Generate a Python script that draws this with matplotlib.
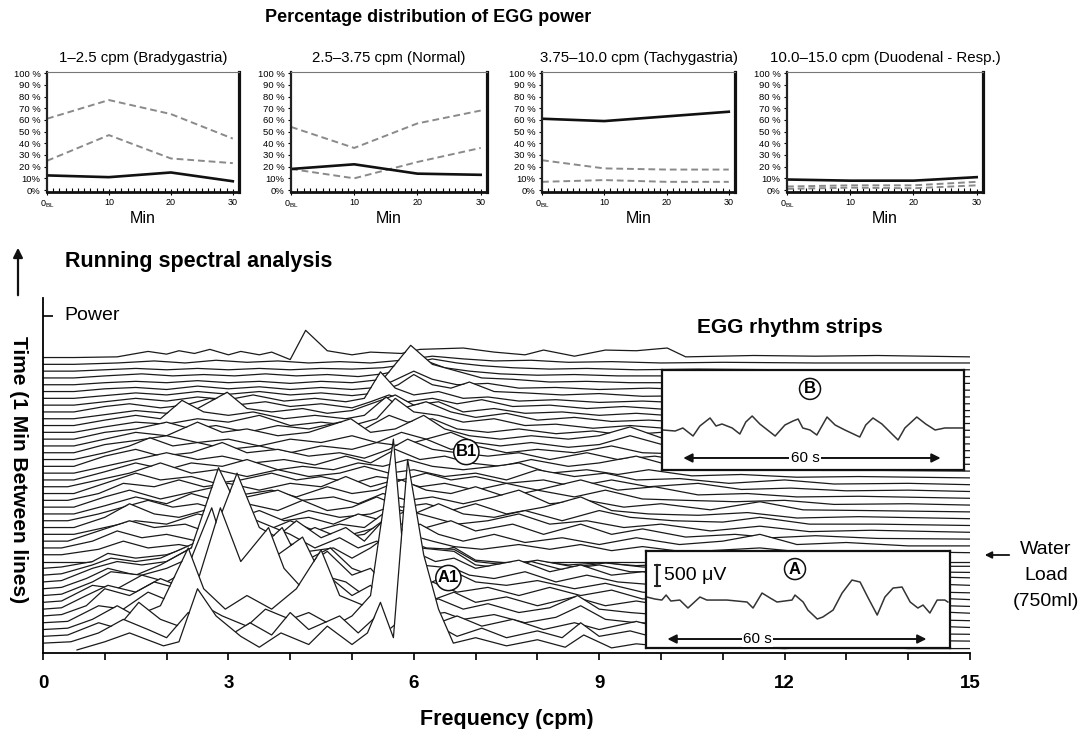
#!/usr/bin/env python
"""EGG running spectral analysis (waterfall) with percentage-of-power panels and rhythm strips."""
import matplotlib
matplotlib.use("Agg")
import matplotlib.pyplot as plt
import numpy as np

plt.rcParams["font.family"] = ["Liberation Sans", "DejaVu Sans"]
plt.rcParams["mathtext.fontset"] = "custom"
plt.rcParams["mathtext.rm"] = "Liberation Sans"
plt.rcParams["mathtext.bf"] = "Liberation Sans:bold"

W, H = 1085, 729

# ---------------- percentage distribution of EGG power ----------------
MINUTES = [0, 10, 20, 30]
MIN_LABELS = [r"$0_{\mathrm{BL}}$", "10", "20", "30"]
PANEL_TITLES = ["1–2.5 cpm (Bradygastria)", "2.5–3.75 cpm (Normal)",
                "3.75–10.0 cpm (Tachygastria)", "10.0–15.0 cpm (Duodenal - Resp.)"]
PCT_PATIENT = [[12.5, 11, 15, 7.5], [18, 22, 14, 13], [61, 59, 63, 67], [9, 8, 8, 11]]
PCT_UPPER = [[61, 77, 65, 44], [54, 36, 57, 68], [25.5, 18.5, 17.5, 17.5], [3, 4, 4, 7]]
PCT_LOWER = [[25, 47, 27, 23], [18, 10, 24, 36], [7, 8.5, 7, 7], [1, 2, 1.5, 4]]
PCT_TICKS = [0, 10, 20, 30, 40, 50, 60, 70, 80, 90, 100]
PCT_TICKLABELS = ["0%", "10%", "20 %", "30 %", "40 %", "50 %", "60 %", "70 %",
                  "80 %", "90 %", "100 %"]

# ---------------- running spectral analysis (1 min per line) ----------------
# (frequency cpm, power in line-spacing units) vertices, bottom line first
rsa_00 = [(0.55, 0), (1.0, 1.2), (1.4, 2.5), (1.95, 0.6), (2.2, 1.2), (2.5, 9.0), (2.8, 5.0), (3.2, 2.0),
          (3.5, 0.4), (3.85, 2.5), (4.3, 0.8), (4.6, 3.5), (5.0, 0.8), (5.25, 2.5), (5.46, 7.0), (5.67, 1.8),
          (5.9, 28.0), (6.16, 14.0), (6.4, 6.0), (6.64, 1.0), (7.0, 1.8), (7.5, 0.6), (8.0, 1.5), (8.45, 0.4),
          (8.75, 2.2), (9.2, 0.3), (9.6, 0.9), (10.3, 0.3), (11.0, 0.5), (12.0, 0.2), (13.0, 0.6), (14.0, 0.2), (15.0, 0.2)]
rsa_01 = [(0.45, 0.2), (0.9, 1.5), (1.3, 3.5), (1.7, 2.0), (2.0, 0.8), (2.35, 4.5), (2.65, 3.0), (3.0, 1.0),
          (3.35, 3.0), (3.7, 1.2), (4.0, 4.5), (4.3, 2.0), (4.8, 4.0), (5.1, 1.5), (5.4, 4.0), (5.6, 2.0),
          (6.0, 5.0), (6.3, 3.0), (6.7, 1.0), (7.1, 2.2), (7.5, 0.8), (8.0, 1.8), (8.4, 0.8), (8.7, 3.0),
          (9.0, 1.0), (9.5, 1.8), (10.0, 0.6), (11.0, 1.0), (12.0, 0.4), (13.0, 0.9), (14.0, 0.4), (15.0, 0.3)]
rsa_02 = [(0.4, 0.2), (0.9, 2.0), (1.2, 1.2), (1.55, 5.0), (1.9, 2.5), (2.2, 1.5), (2.6, 4.5), (2.9, 3.0),
          (3.3, 1.5), (3.6, 4.0), (4.0, 2.5), (4.3, 3.5), (4.7, 1.5), (5.0, 3.0), (5.3, 6.0), (5.67, 29.0),
          (5.85, 10.0), (6.1, 4.0), (6.4, 2.0), (6.7, 3.0), (7.1, 1.5), (7.6, 2.5), (8.1, 1.0), (8.6, 2.0),
          (9.0, 1.0), (9.6, 2.2), (10.2, 0.8), (11.0, 1.0), (12.0, 0.6), (13.0, 0.8), (14.0, 0.4), (15.0, 0.3)]
rsa_03 = [(0.4, 0.2), (0.8, 1.5), (1.2, 3.5), (1.5, 2.0), (1.9, 3.5), (2.35, 12.0), (2.6, 6.0), (2.95, 3.0),
          (3.3, 5.0), (3.7, 3.0), (4.1, 6.0), (4.5, 11.7), (4.8, 5.0), (5.2, 3.5), (5.5, 2.0), (5.8, 3.0),
          (6.1, 2.0), (6.5, 2.5), (6.8, 1.5), (7.3, 2.2), (7.8, 1.0), (8.3, 1.8), (8.7, 3.5), (9.1, 1.5),
          (9.6, 1.0), (10.5, 0.8), (11.5, 1.0), (12.5, 0.5), (13.5, 0.8), (15.0, 0.3)]
rsa_04 = [(0.4, 0.2), (0.9, 2.5), (1.3, 2.0), (1.7, 4.5), (2.1, 3.0), (2.5, 6.0), (2.87, 16.9), (3.2, 9.0),
          (3.65, 14.0), (3.9, 8.0), (4.2, 5.0), (4.6, 7.0), (5.0, 4.0), (5.3, 5.5), (5.55, 3.0), (6.0, 2.5),
          (6.4, 3.5), (6.8, 2.0), (7.2, 2.8), (7.7, 1.5), (8.2, 2.2), (8.65, 4.0), (9.0, 2.0), (9.5, 1.5),
          (10.2, 1.0), (11.2, 1.4), (12.0, 0.8), (13.0, 1.0), (14.0, 0.5), (15.0, 0.3)]
rsa_05 = [(0.3, 0.2), (0.7, 1.5), (1.0, 4.0), (1.4, 3.0), (1.8, 5.0), (2.2, 4.0), (2.73, 15.9), (3.0, 8.0),
          (3.4, 6.0), (3.8, 9.0), (4.2, 11.6), (4.5, 6.0), (4.9, 5.0), (5.2, 3.0), (5.45, 4.5), (5.8, 3.0),
          (6.2, 2.0), (6.65, 3.5), (7.0, 2.0), (7.5, 2.8), (8.0, 1.5), (8.6, 2.8), (9.1, 1.5), (9.6, 2.2),
          (10.4, 1.0), (11.5, 1.2), (12.5, 0.6), (13.5, 1.0), (15.0, 0.4)]
rsa_06 = [(0.3, 0.2), (0.7, 2.0), (1.05, 3.5), (1.5, 2.5), (1.9, 4.5), (2.3, 3.0), (2.6, 7.0), (3.0, 5.0),
          (3.4, 8.0), (3.87, 12.0), (4.2, 6.0), (4.6, 8.5), (5.0, 5.0), (5.3, 6.0), (5.5, 4.0), (6.0, 3.0),
          (6.3, 4.0), (6.7, 2.5), (7.2, 3.2), (7.7, 2.0), (8.2, 3.2), (8.7, 2.0), (9.2, 2.8), (9.7, 1.5),
          (10.5, 1.5), (11.5, 1.0), (12.5, 0.8), (13.5, 0.8), (15.0, 0.4)]
rsa_07 = [(0.3, 0.2), (0.8, 2.5), (1.2, 2.0), (1.6, 4.0), (2.0, 3.0), (2.4, 5.0), (2.8, 7.0), (3.2, 5.5),
          (3.6, 6.5), (4.0, 5.0), (4.65, 8.0), (5.0, 5.0), (5.3, 4.0), (5.55, 5.5), (5.9, 3.5), (6.3, 3.0),
          (6.65, 4.5), (7.0, 3.0), (7.5, 2.5), (8.0, 3.2), (8.6, 2.0), (9.1, 2.8), (9.7, 1.5), (10.5, 1.0),
          (11.5, 1.5), (12.5, 0.8), (13.5, 1.0), (15.0, 0.4)]
rsa_08 = [(0.3, 0.2), (0.8, 2.0), (1.1, 3.5), (1.6, 3.0), (2.0, 4.0), (2.5, 6.0), (2.8, 10.0), (3.14, 18.0),
          (3.5, 10.0), (3.9, 8.0), (4.3, 6.5), (4.7, 7.0), (5.0, 5.5), (5.3, 7.0), (5.6, 9.0), (5.85, 6.0),
          (6.1, 4.5), (6.65, 4.0), (6.9, 3.0), (7.3, 2.5), (7.8, 3.5), (8.3, 2.0), (8.8, 3.0), (9.3, 2.0),
          (10.0, 1.5), (11.0, 1.0), (12.0, 1.2), (13.0, 0.8), (14.0, 0.6), (15.0, 0.4)]
rsa_09 = [(0.3, 0.2), (0.7, 1.5), (1.05, 3.0), (1.5, 2.0), (1.9, 3.5), (2.4, 6.0), (2.84, 17.8), (3.2, 11.0),
          (3.6, 9.5), (4.0, 8.0), (4.4, 6.0), (4.8, 7.5), (5.1, 6.0), (5.4, 7.0), (5.7, 6.0), (6.0, 5.5),
          (6.35, 4.0), (6.65, 4.5), (7.0, 3.0), (7.7, 4.2), (8.2, 2.5), (8.7, 3.5), (9.2, 2.0), (9.7, 2.5),
          (10.5, 1.5), (11.5, 2.0), (12.5, 1.0), (13.5, 1.0), (15.0, 0.5)]
rsa_10 = [(0.3, 0.2), (0.8, 2.0), (1.2, 3.0), (1.6, 2.5), (2.0, 3.0), (2.5, 5.5), (2.9, 7.0), (3.3, 8.5),
          (3.7, 6.0), (4.1, 9.0), (4.5, 6.5), (4.9, 8.0), (5.2, 6.0), (5.5, 9.0), (5.75, 6.0), (6.1, 5.0),
          (6.65, 4.5), (7.0, 2.5), (7.5, 2.0), (7.9, 3.0), (8.4, 1.8), (9.0, 2.5), (9.5, 1.5), (10.2, 1.5),
          (11.0, 1.2), (11.6, 2.5), (12.3, 1.2), (13.2, 1.0), (14.2, 0.8), (15.0, 0.6)]
rsa_11 = [(0.3, 0.2), (0.8, 1.5), (1.1, 2.5), (1.5, 2.0), (1.9, 2.5), (2.4, 4.5), (2.8, 6.0), (3.2, 5.0),
          (3.6, 6.5), (4.0, 5.5), (4.4, 7.0), (4.8, 5.5), (5.2, 6.0), (5.5, 8.0), (5.8, 5.5), (6.2, 4.0),
          (6.65, 3.8), (7.0, 2.0), (7.5, 1.5), (8.0, 2.2), (8.6, 1.2), (9.1, 1.8), (9.7, 1.2), (10.3, 1.0),
          (11.0, 0.8), (11.6, 1.5), (12.3, 0.6), (13.0, 0.8), (14.0, 0.5), (15.0, 0.4)]
rsa_12 = [(0.3, 0.2), (0.8, 1.0), (1.05, 2.2), (1.5, 1.5), (2.0, 2.0), (2.5, 3.5), (3.0, 4.0), (3.5, 3.5),
          (4.0, 4.5), (4.5, 4.0), (5.0, 5.0), (5.4, 6.0), (5.8, 4.0), (6.2, 2.0), (6.65, 3.1), (7.0, 1.2),
          (7.5, 0.8), (8.0, 1.0), (8.5, 0.5), (9.0, 0.8), (9.6, 0.4), (10.2, 0.6), (10.8, 0.3), (11.6, 0.8),
          (12.3, 0.3), (13.0, 0.4), (14.0, 0.3), (15.0, 0.3)]
rsa_13 = [(0.0, 0.0), (15.0, 0.0)]  # water load, no signal
rsa_14 = [(0.3, 0), (0.9, 0.8), (1.3, 2.0), (1.7, 1.0), (2.2, 1.5), (2.6, 0.8), (3.0, 1.5), (3.5, 0.8),
          (4.0, 2.0), (4.4, 1.0), (4.9, 1.5), (5.3, 2.5), (5.65, 5.0), (5.9, 3.0), (6.3, 2.0), (6.65, 1.2),
          (7.1, 0.8), (7.7, 1.5), (8.2, 0.8), (8.7, 1.5), (9.2, 0.6), (9.7, 1.2), (10.4, 0.4), (11.6, 1.0),
          (12.4, 0.3), (13.5, 0.5), (15.0, 0.3)]
rsa_15 = [(0.3, 0), (0.8, 1.0), (1.2, 2.5), (1.6, 1.5), (2.0, 2.0), (2.5, 1.0), (2.9, 2.0), (3.3, 1.0),
          (3.8, 2.5), (4.2, 1.5), (4.6, 2.0), (5.0, 1.0), (5.4, 3.0), (5.7, 2.0), (6.1, 3.5), (6.4, 2.0),
          (6.8, 1.0), (7.3, 2.0), (7.8, 0.8), (8.4, 1.5), (9.0, 0.5), (9.6, 1.5), (10.3, 0.5), (11.0, 1.0),
          (11.6, 2.0), (12.2, 0.5), (13.0, 0.8), (14.0, 0.3), (15.0, 0.3)]
rsa_16 = [(0.4, 0), (0.9, 1.5), (1.4, 3.0), (1.8, 2.0), (2.3, 2.5), (2.7, 1.2), (3.1, 2.5), (3.6, 1.5),
          (4.0, 3.0), (4.4, 1.5), (4.8, 2.5), (5.2, 2.0), (5.5, 4.0), (5.8, 2.5), (6.2, 2.0), (6.6, 3.0),
          (7.0, 1.5), (7.6, 2.5), (8.1, 1.0), (8.7, 2.5), (9.2, 1.0), (9.7, 1.8), (10.4, 0.6), (11.2, 1.0),
          (11.8, 0.5), (12.5, 0.8), (13.5, 0.4), (15.0, 0.3)]
rsa_17 = [(0.5, 0), (1.0, 1.0), (1.5, 2.0), (2.0, 1.5), (2.5, 3.0), (3.0, 2.0), (3.5, 3.5), (3.9, 2.0),
          (4.3, 2.5), (4.7, 1.5), (5.1, 3.0), (5.5, 2.0), (5.9, 3.5), (6.3, 2.5), (6.7, 1.5), (7.2, 2.0),
          (7.7, 3.0), (8.2, 1.5), (8.8, 2.0), (9.4, 1.0), (10.0, 1.5), (10.8, 0.5), (11.6, 1.2), (12.4, 0.4),
          (13.4, 0.6), (15.0, 0.3)]
rsa_18 = [(0.5, 0), (1.0, 1.5), (1.4, 3.5), (1.8, 2.0), (2.2, 1.5), (2.6, 2.5), (3.0, 1.5), (3.4, 2.0),
          (3.8, 1.0), (4.3, 2.5), (4.8, 1.5), (5.3, 2.0), (5.6, 3.0), (6.0, 2.0), (6.4, 3.5), (6.8, 2.0),
          (7.3, 1.5), (7.8, 2.5), (8.4, 1.0), (9.0, 2.5), (9.5, 1.5), (10.2, 1.0), (11.0, 0.8), (11.6, 1.5),
          (12.4, 0.5), (13.5, 0.5), (15.0, 0.3)]
rsa_19 = [(0.4, 0), (0.9, 1.0), (1.3, 2.0), (1.7, 3.0), (2.1, 2.0), (2.5, 2.5), (2.9, 1.5), (3.3, 2.5),
          (3.8, 1.5), (4.2, 3.0), (4.6, 1.5), (5.0, 2.0), (5.4, 3.5), (5.8, 2.0), (6.2, 2.5), (6.6, 1.5),
          (7.0, 2.5), (7.5, 1.0), (8.1, 2.0), (8.7, 3.5), (9.2, 1.5), (9.8, 1.0), (10.6, 0.8), (11.4, 1.2),
          (12.2, 0.4), (13.2, 0.6), (15.0, 0.3)]
rsa_20 = [(0.5, 0), (1.0, 1.2), (1.5, 2.5), (2.0, 1.5), (2.4, 3.0), (2.8, 2.0), (3.3, 2.5), (3.8, 3.5),
          (4.2, 2.0), (4.7, 2.5), (5.1, 1.5), (5.5, 3.0), (5.9, 2.0), (6.3, 2.5), (6.8, 1.5), (7.3, 2.5),
          (7.7, 3.5), (8.2, 1.5), (8.8, 2.0), (9.4, 1.0), (10.0, 1.5), (10.8, 0.6), (11.6, 1.8), (12.3, 0.6),
          (13.3, 0.5), (15.0, 0.3)]
rsa_21 = [(0.5, 0), (1.0, 1.5), (1.4, 2.5), (1.9, 1.2), (2.3, 2.0), (2.8, 3.0), (3.2, 1.8), (3.7, 2.5),
          (4.1, 1.5), (4.6, 3.0), (5.0, 2.0), (5.4, 2.5), (5.8, 4.0), (6.2, 2.5), (6.6, 2.0), (7.0, 3.0),
          (7.5, 1.5), (8.0, 2.5), (8.6, 1.5), (9.1, 2.5), (9.7, 1.2), (10.4, 1.0), (11.2, 0.8), (12.0, 1.0),
          (12.8, 0.4), (14.0, 0.5), (15.0, 0.3)]
rsa_22 = [(0.4, 0), (0.9, 1.0), (1.3, 2.5), (1.8, 2.0), (2.2, 3.0), (2.6, 2.0), (3.0, 2.5), (3.5, 1.5),
          (4.0, 2.5), (4.5, 2.0), (4.9, 3.5), (5.3, 2.0), (5.7, 3.0), (6.1, 2.0), (6.5, 2.5), (7.0, 1.5),
          (7.5, 2.5), (8.0, 1.5), (8.7, 3.0), (9.3, 1.5), (9.9, 2.0), (10.6, 0.8), (11.4, 1.0), (12.2, 0.5),
          (13.2, 0.6), (15.0, 0.3)]
rsa_23 = [(0.5, 0), (1.0, 1.5), (1.5, 3.0), (1.9, 2.0), (2.4, 2.5), (2.8, 1.5), (3.2, 2.0), (3.7, 3.0),
          (4.1, 2.0), (4.5, 2.5), (5.0, 1.5), (5.4, 2.5), (5.8, 2.0), (6.2, 3.0), (6.6, 2.0), (7.0, 2.5),
          (7.5, 1.5), (8.1, 2.0), (8.6, 1.0), (9.2, 2.0), (9.8, 1.0), (10.6, 1.5), (11.3, 0.6), (12.1, 0.8),
          (13.0, 0.4), (14.0, 0.5), (15.0, 0.3)]
rsa_24 = [(0.4, 0), (0.9, 1.0), (1.4, 2.0), (1.9, 3.5), (2.4, 2.0), (2.8, 2.5), (3.3, 1.5), (3.8, 2.5),
          (4.3, 1.5), (4.8, 2.0), (5.2, 3.0), (5.6, 2.0), (6.0, 2.5), (6.5, 1.5), (7.0, 2.0), (7.5, 1.0),
          (8.0, 2.5), (8.6, 1.5), (9.1, 2.0), (9.6, 1.0), (10.3, 1.2), (11.1, 0.5), (12.0, 1.0), (12.8, 0.4),
          (14.0, 0.5), (15.0, 0.3)]
rsa_25 = [(0.5, 0), (1.0, 1.2), (1.5, 2.5), (2.0, 1.5), (2.4, 2.5), (2.9, 2.0), (3.3, 3.0), (3.8, 1.5),
          (4.2, 2.0), (4.7, 1.5), (5.1, 2.5), (5.5, 2.0), (5.9, 3.0), (6.3, 2.0), (6.8, 1.5), (7.3, 2.0),
          (7.7, 2.5), (8.2, 1.0), (8.8, 1.5), (9.3, 0.8), (9.8, 1.5), (10.5, 0.6), (11.3, 0.8), (12.2, 0.4),
          (13.2, 0.5), (15.0, 0.3)]
rsa_26 = [(0.5, 0), (1.0, 1.0), (1.5, 2.0), (2.0, 3.0), (2.5, 2.0), (2.9, 2.5), (3.4, 1.5), (3.9, 2.0),
          (4.4, 1.2), (4.9, 2.5), (5.3, 1.5), (5.7, 3.5), (6.1, 2.0), (6.5, 2.5), (6.9, 1.5), (7.4, 1.0),
          (7.9, 2.0), (8.5, 1.0), (9.0, 1.5), (9.6, 2.5), (10.2, 1.0), (11.0, 0.5), (11.8, 0.8), (12.6, 0.4),
          (13.6, 0.4), (15.0, 0.3)]
rsa_27 = [(0.5, 0), (1.0, 1.5), (1.5, 2.5), (1.9, 1.5), (2.4, 2.0), (2.9, 3.5), (3.3, 2.0), (3.8, 2.5),
          (4.3, 1.5), (4.8, 2.0), (5.2, 1.2), (5.6, 2.5), (5.9, 4.0), (6.3, 2.5), (6.7, 2.0), (7.2, 1.5),
          (7.7, 2.0), (8.2, 1.0), (8.8, 2.0), (9.3, 1.0), (9.9, 1.5), (10.6, 0.5), (11.4, 0.8), (12.3, 0.4),
          (13.5, 0.4), (15.0, 0.3)]
rsa_28 = [(0.5, 0), (1.0, 1.0), (1.4, 2.0), (1.73, 3.2), (2.1, 2.0), (2.5, 2.5), (3.0, 1.5), (3.5, 2.0),
          (4.0, 1.0), (4.5, 2.0), (5.0, 1.5), (5.4, 2.5), (5.8, 2.0), (6.2, 3.0), (6.6, 1.5), (7.0, 2.0),
          (7.5, 1.0), (8.0, 1.5), (8.6, 1.0), (9.2, 2.0), (9.7, 1.0), (10.4, 0.8), (11.2, 0.5), (12.0, 0.6),
          (13.0, 0.3), (15.0, 0.3)]
rsa_29 = [(0.5, 0), (1.0, 1.2), (1.5, 1.8), (2.0, 2.5), (2.5, 1.5), (3.0, 2.0), (3.5, 1.0), (4.0, 2.0),
          (4.5, 1.5), (5.0, 2.5), (5.4, 1.5), (5.8, 3.0), (6.2, 2.0), (6.6, 3.0), (7.0, 1.5), (7.4, 1.0),
          (7.9, 1.5), (8.5, 0.8), (9.0, 1.2), (9.5, 2.5), (10.1, 1.0), (10.8, 0.5), (11.6, 0.6), (12.5, 0.3),
          (13.5, 0.4), (15.0, 0.3)]
rsa_30 = [(0.5, 0), (1.0, 1.0), (1.5, 2.0), (2.0, 1.5), (2.5, 3.5), (2.9, 2.0), (3.3, 2.5), (3.8, 1.5),
          (4.3, 2.0), (4.98, 4.0), (5.3, 2.0), (5.7, 2.5), (6.16, 4.5), (6.5, 2.5), (6.9, 1.5), (7.4, 1.0),
          (7.9, 1.5), (8.5, 1.0), (9.0, 1.5), (9.5, 2.8), (10.0, 1.2), (10.8, 0.5), (11.6, 0.5), (12.5, 0.3),
          (15.0, 0.3)]
rsa_31 = [(0.5, 0), (1.0, 1.0), (1.5, 1.5), (2.0, 2.5), (2.4, 1.5), (2.8, 2.0), (3.3, 1.0), (3.8, 2.0),
          (4.3, 1.5), (4.8, 2.5), (5.2, 1.5), (5.6, 3.5), (5.9, 2.5), (6.3, 3.0), (6.7, 1.5), (7.2, 1.0),
          (7.7, 1.5), (8.3, 0.8), (8.9, 1.2), (9.4, 0.6), (10.0, 1.0), (10.8, 0.4), (11.8, 0.5), (13.0, 0.3),
          (15.0, 0.3)]
rsa_32 = [(0.5, 0), (1.0, 0.8), (1.5, 1.5), (2.0, 1.2), (2.5, 2.0), (3.0, 1.5), (3.5, 2.5), (4.0, 1.0),
          (4.5, 1.5), (5.0, 1.0), (5.4, 2.0), (5.7, 5.0), (6.0, 3.0), (6.4, 2.5), (6.8, 1.5), (7.3, 2.0),
          (7.8, 1.0), (8.3, 1.2), (8.9, 0.6), (9.5, 1.0), (10.2, 0.5), (11.0, 0.6), (12.0, 0.3), (13.2, 0.4),
          (15.0, 0.3)]
rsa_33 = [(0.5, 0), (1.0, 0.8), (1.5, 1.5), (1.9, 1.0), (2.25, 3.7), (2.6, 2.0), (3.0, 1.5), (3.4, 2.0),
          (3.9, 1.0), (4.4, 1.5), (4.9, 1.0), (5.2, 1.5), (5.55, 4.2), (5.8, 2.5), (6.2, 3.5), (6.6, 2.0),
          (7.0, 1.2), (7.5, 1.8), (8.0, 0.8), (8.6, 1.2), (9.2, 0.6), (9.8, 0.8), (10.6, 0.4), (11.5, 0.5),
          (12.5, 0.3), (15.0, 0.3)]
rsa_34 = [(0.5, 0), (1.0, 0.6), (1.5, 1.2), (2.0, 0.8), (2.5, 1.5), (2.98, 3.9), (3.3, 1.5), (3.7, 1.0),
          (4.2, 1.5), (4.6, 0.8), (5.0, 1.2), (5.4, 2.5), (5.7, 3.5), (6.0, 2.0), (6.4, 2.5), (6.8, 1.0),
          (7.3, 1.5), (7.8, 0.8), (8.4, 1.0), (9.0, 0.5), (9.6, 0.8), (10.4, 0.3), (11.4, 0.5), (12.5, 0.2),
          (15.0, 0.3)]
rsa_35 = [(0.5, 0), (1.0, 0.8), (1.4, 1.2), (1.9, 0.6), (2.3, 1.0), (2.7, 2.0), (3.1, 1.0), (3.6, 1.5),
          (4.0, 0.8), (4.5, 1.2), (5.0, 0.6), (5.3, 1.5), (5.6, 2.5), (5.9, 1.5), (6.3, 2.0), (6.7, 1.2),
          (7.1, 1.8), (7.6, 0.8), (8.2, 1.0), (8.8, 0.5), (9.4, 0.8), (10.2, 0.3), (11.2, 0.4), (12.4, 0.2),
          (15.0, 0.2)]
rsa_36 = [(0.5, 0), (1.0, 0.5), (1.5, 1.0), (2.0, 0.6), (2.5, 1.2), (3.0, 0.8), (3.4, 1.5), (3.9, 0.6),
          (4.4, 1.0), (4.9, 0.5), (5.2, 1.0), (5.46, 4.9), (5.7, 2.5), (6.0, 1.5), (6.4, 2.0), (6.8, 1.0),
          (7.2, 1.2), (7.7, 0.6), (8.3, 0.8), (9.0, 0.4), (9.7, 0.6), (10.5, 0.3), (11.6, 0.4), (13.0, 0.2),
          (15.0, 0.2)]
rsa_37 = [(0.5, 0), (1.0, 0.4), (1.5, 0.8), (2.0, 0.5), (2.5, 1.0), (3.0, 0.6), (3.5, 1.0), (4.0, 0.5),
          (4.5, 0.8), (5.0, 0.4), (5.4, 0.8), (5.75, 2.0), (6.0, 3.5), (6.3, 2.0), (6.6, 1.5), (6.9, 2.4),
          (7.3, 1.0), (7.8, 0.8), (8.4, 0.5), (9.0, 0.7), (9.7, 0.3), (10.6, 0.4), (12.0, 0.2), (15.0, 0.2)]
rsa_38 = [(0.5, 0), (1.0, 0.4), (1.5, 0.6), (2.0, 0.3), (2.5, 0.8), (3.0, 0.4), (3.5, 0.7), (4.0, 0.3),
          (4.5, 0.6), (5.0, 0.3), (5.4, 0.6), (5.65, 1.5), (6.0, 3.0), (6.3, 1.8), (6.7, 1.0), (7.2, 1.2),
          (7.7, 0.5), (8.3, 0.6), (9.0, 0.3), (9.8, 0.5), (10.8, 0.2), (12.0, 0.3), (15.0, 0.2)]
rsa_39 = [(0.5, 0), (1.0, 0.3), (1.5, 0.5), (2.0, 0.3), (2.5, 0.6), (3.0, 0.3), (3.5, 0.5), (4.0, 0.2),
          (4.5, 0.5), (5.0, 0.3), (5.5, 0.8), (5.95, 5.8), (6.3, 3.0), (6.7, 2.0), (7.1, 1.0), (7.6, 0.8),
          (8.2, 0.4), (8.8, 0.5), (9.5, 0.3), (10.5, 0.3), (12.0, 0.2), (15.0, 0.2)]
rsa_40 = [(0.5, 0), (1.0, 0.3), (1.6, 0.6), (2.1, 0.3), (2.6, 0.5), (3.1, 0.3), (3.6, 0.6), (4.1, 0.3),
          (4.6, 0.5), (5.1, 0.2), (5.5, 0.6), (5.8, 1.2), (6.2, 2.5), (6.5, 1.5), (6.9, 1.0), (7.4, 0.6),
          (8.0, 0.4), (8.6, 0.5), (9.3, 0.3), (10.2, 0.3), (11.5, 0.2), (15.0, 0.2)]
rsa_41 = [(0.5, 0), (1.0, 0.2), (1.5, 0.4), (2.0, 0.2), (2.5, 0.4), (3.0, 0.2), (3.5, 0.4), (4.0, 0.2),
          (4.5, 0.4), (5.0, 0.3), (5.5, 0.5), (5.9, 1.0), (6.3, 1.8), (6.7, 1.2), (7.1, 0.8), (7.6, 0.5),
          (8.2, 0.3), (8.8, 0.4), (9.6, 0.2), (10.6, 0.3), (12.0, 0.2), (15.0, 0.2)]
rsa_42 = [(0.5, 0), (1.2, 0.2), (1.8, 0.5), (2.3, 0.2), (2.8, 0.6), (3.3, 0.3), (3.8, 0.5), (4.3, 0.2),
          (4.8, 0.4), (5.3, 0.2), (5.8, 0.6), (6.3, 1.2), (6.8, 0.8), (7.3, 0.5), (7.9, 0.6), (8.5, 0.3),
          (9.2, 0.4), (10.0, 0.2), (11.0, 0.3), (12.5, 0.2), (15.0, 0.2)]
rsa_43 = [(0.5, 0), (1.2, 0.1), (1.7, 0.9), (2.0, 0.5), (2.2, 1.0), (2.45, 0.6), (2.7, 1.2), (3.0, 0.4),
          (3.2, 0.9), (3.5, 0.4), (3.7, 0.8), (4.0, -0.3), (4.25, 4.0), (4.6, 1.0), (5.0, 0.4), (5.3, 0.8),
          (5.8, 0.6), (6.1, 1.2), (6.8, 1.4), (7.3, 0.8), (7.8, 0.4), (8.1, 1.1), (8.6, 0.2), (9.1, 1.1),
          (9.6, 1.0), (10.1, 1.4), (10.4, 0.1), (11.5, 0.3), (12.5, 0.2), (13.5, 0.3), (15.0, 0.1)]
RSA = [rsa_00, rsa_01, rsa_02, rsa_03, rsa_04, rsa_05, rsa_06, rsa_07, rsa_08, rsa_09, rsa_10,
       rsa_11, rsa_12, rsa_13, rsa_14, rsa_15, rsa_16, rsa_17, rsa_18, rsa_19, rsa_20, rsa_21,
       rsa_22, rsa_23, rsa_24, rsa_25, rsa_26, rsa_27, rsa_28, rsa_29, rsa_30, rsa_31, rsa_32,
       rsa_33, rsa_34, rsa_35, rsa_36, rsa_37, rsa_38, rsa_39, rsa_40, rsa_41, rsa_42, rsa_43]
FREQ_TICKS = [0, 3, 6, 9, 12, 15]

# ---------------- EGG rhythm strips (time s, amplitude uV) ----------------
STRIP_B_T = [0.2, 3.1, 4.9, 7.3, 8.9, 11.3, 12.7, 14.1, 16.5, 18.3, 19.7, 21.2, 23.0, 26.6, 28.9, 30.8,
             32.0, 33.1, 34.8, 36.4, 38.8, 40.7, 43.0, 46.5, 47.9, 49.6, 51.7, 53.6, 55.5, 57.1, 59.9,
             62.0, 64.2, 66.5, 70.7]
STRIP_B_UV = [952, 928, 1000, 809, 1047, 1238, 1047, 1095, 1000, 857, 1142, 1285, 1095, 809, 1071, 1166,
              1214, 1000, 952, 833, 1261, 1071, 952, 785, 1071, 1238, 1095, 904, 714, 1000, 1261,
              1095, 952, 1000, 1000]
STRIP_A_T = [0.2, 2.1, 3.7, 4.7, 5.8, 7.9, 9.8, 12.6, 14.2, 18.9, 23.6, 25.0, 27.1, 29.0, 30.6, 34.1,
             34.8, 36.7, 37.8, 40.0, 41.3, 43.7, 45.8, 48.1, 50.0, 51.9, 54.0, 55.8, 57.7, 59.8, 61.7,
             63.5, 64.7, 66.3, 68.0, 69.8, 70.5]
STRIP_A_UV = [1214, 1166, 1142, 1261, 1119, 1142, 952, 1214, 1142, 1142, 1095, 952, 1309, 1190, 1095, 1142,
              1261, 1095, 904, 690, 738, 904, 1309, 1618, 1571, 1190, 785, 1214, 1428, 1452, 1095,
              952, 1023, 833, 1142, 1142, 1095]


def fx(x):
    return x / W


def fy(y):
    return 1 - y / H


fig = plt.figure(figsize=(W / 100, H / 100), dpi=100)

# --- top panels ---
fig.text(fx(428), fy(18), "Percentage distribution of EGG power", ha="center", va="center",
         fontsize=13, fontweight="bold")
PANEL_PX = [(47, 239), (291, 487), (542, 735), (787, 983)]
for k, (l, r) in enumerate(PANEL_PX):
    pa = fig.add_axes([fx(l), fy(192), (r - l) / W, 120 / H])
    pa.plot(MINUTES, PCT_UPPER[k], color="#8a8a8a", lw=1.4, ls=(0, (3.5, 2)))
    pa.plot(MINUTES, PCT_LOWER[k], color="#8a8a8a", lw=1.4, ls=(0, (3.5, 2)))
    pa.plot(MINUTES, PCT_PATIENT[k], color="#111111", lw=1.9)
    pa.set_xlim(0, 31)
    pa.set_ylim(-1.7, 101)
    pa.set_yticks(PCT_TICKS)
    pa.set_yticklabels(PCT_TICKLABELS, fontsize=6.8)
    pa.set_xticks(MINUTES)
    pa.set_xticklabels(MIN_LABELS, fontsize=6.5)
    pa.set_xticks(range(0, 31), minor=True)
    pa.tick_params(axis="x", which="minor", direction="in", length=3, width=0.8)
    pa.tick_params(axis="x", which="major", direction="inout", length=5, width=0.8, pad=2)
    pa.tick_params(axis="y", direction="out", length=2.5, width=0.8, pad=2)
    for side, lw, c in [("left", 1.6, "#222"), ("bottom", 2.0, "#111"), ("right", 2.3, "#111"),
                        ("top", 0.8, "#777")]:
        pa.spines[side].set_linewidth(lw)
        pa.spines[side].set_color(c)
    pa.set_xlabel("Min", fontsize=11.5, labelpad=1)
    pa.set_title(PANEL_TITLES[k], fontsize=10.8, pad=7)

# --- running spectral analysis ---
ax = fig.add_axes([fx(43), fy(653), 927 / W, 355 / H])
SPACING = 6.8  # pixels per minute line
ax.set_xlim(0, 15)
ax.set_ylim(0, 355 / SPACING)
n = len(RSA)
for i in range(n - 1, -1, -1):
    pts = list(RSA[i])
    if i > 0 and pts[0][0] > 0:
        pts = [(0.0, 0.0)] + pts
    f = np.array([p[0] for p in pts])
    pw = np.array([p[1] for p in pts])
    base = 0.45 + i
    z = 10 + 2 * (n - i)
    ax.fill_between(f, base - 0.4, base + pw, color="white", lw=0, zorder=z)
    ax.plot(f, base + pw, color="#1a1a1a", lw=0.9, zorder=z + 1)

for s in ["top", "right"]:
    ax.spines[s].set_visible(False)
for s in ["left", "bottom"]:
    ax.spines[s].set_linewidth(1.3)
    ax.spines[s].set_zorder(500)
ax.set_xticks(FREQ_TICKS)
ax.set_xticklabels([str(t) for t in FREQ_TICKS], fontsize=13.5, fontweight="bold")
ax.set_xticks(range(0, 16), minor=True)
ax.tick_params(axis="x", which="both", direction="out", length=5, width=1.2, pad=11)
ax.set_yticks([(653 - 316) / SPACING])
ax.set_yticklabels([""])
ax.tick_params(axis="y", direction="in", length=7, width=1.2)
ax.text(0.35, (653 - 316) / SPACING, "Power", fontsize=14, va="center", ha="left")
ax.set_facecolor("white")

circ = dict(boxstyle="circle,pad=0.12", fc="white", ec="#111", lw=1.1)
ax.text(6.85, (653 - 452) / SPACING, "B1", ha="center", va="center", fontsize=12,
        fontweight="bold", bbox=circ, zorder=600)
ax.text(6.56, (653 - 578) / SPACING, "A1", ha="center", va="center", fontsize=12,
        fontweight="bold", bbox=circ, zorder=600)

fig.text(fx(65), fy(262), "Running spectral analysis", ha="left", va="center",
         fontsize=15.5, fontweight="bold")
fig.text(fx(790), fy(327), "EGG rhythm strips", ha="center", va="center",
         fontsize=15, fontweight="bold")
fig.text(fx(507), fy(719), "Frequency (cpm)", ha="center", va="center",
         fontsize=15.5, fontweight="bold")
fig.text(fx(18), fy(470), "Time (1 Min Between lines)", ha="center", va="center",
         rotation=270, fontsize=15, fontweight="bold")
fig.add_artist(matplotlib.patches.FancyArrowPatch(
    (fx(18), fy(298)), (fx(18), fy(245)), transform=fig.transFigure,
    arrowstyle="-|>", mutation_scale=14, lw=1.6, color="#111"))

# water load annotation
for txt, y in [("Water", 550), ("Load", 576), ("(750ml)", 602)]:
    fig.text(fx(1046), fy(y), txt, ha="center", va="center", fontsize=14)
fig.add_artist(matplotlib.patches.FancyArrowPatch(
    (fx(1012), fy(555)), (fx(982), fy(555)), transform=fig.transFigure,
    arrowstyle="-|>", mutation_scale=10, lw=1.3, color="#111"))

# --- rhythm strip insets ---
def strip(rect_px, t, uv, vmax, label, lab_xy, arrow_v, text_t):
    l, t_, r, b = rect_px
    sa = fig.add_axes([fx(l), fy(b), (r - l) / W, (b - t_) / H], zorder=5)
    sa.set_facecolor("white")
    sa.plot(t, uv, color="#333333", lw=1.1)
    sa.set_xlim(0, 71)
    sa.set_ylim(0, vmax)
    sa.set_xticks([])
    sa.set_yticks([])
    for s in sa.spines.values():
        s.set_linewidth(1.6)
        s.set_color("#111")
    sa.text(lab_xy[0], lab_xy[1], label, ha="center", va="center", fontsize=12, fontweight="bold",
            bbox=dict(boxstyle="circle,pad=0.18", fc="white", ec="#111", lw=1.1))
    sa.annotate("", xy=(5.0, arrow_v), xytext=(65.5, arrow_v),
                arrowprops=dict(arrowstyle="<|-|>", color="#111", lw=1.4, mutation_scale=13,
                                shrinkA=0, shrinkB=0))
    sa.text(text_t, arrow_v, "60 s", ha="center", va="center", fontsize=11,
            bbox=dict(boxstyle="square,pad=0.08", fc="white", ec="none"))
    return sa


strip((662, 370, 964, 470), STRIP_B_T, STRIP_B_UV, 2380, "B", (34.8, 1930), 286, 33.6)
sa = strip((646, 551, 950, 648), STRIP_A_T, STRIP_A_UV, 2310, "A", (34.8, 1880), 214, 26.0)
sa.plot([2.6, 2.6], [1476, 1975], color="#222", lw=1.6)
sa.plot([2.0, 3.2], [1476, 1476], color="#222", lw=1.4)
sa.plot([2.0, 3.2], [1975, 1975], color="#222", lw=1.4)
sa.text(4.2, 1725, "500 μV", ha="left", va="center", fontsize=14)

fig.savefig("out.png", dpi=100)
